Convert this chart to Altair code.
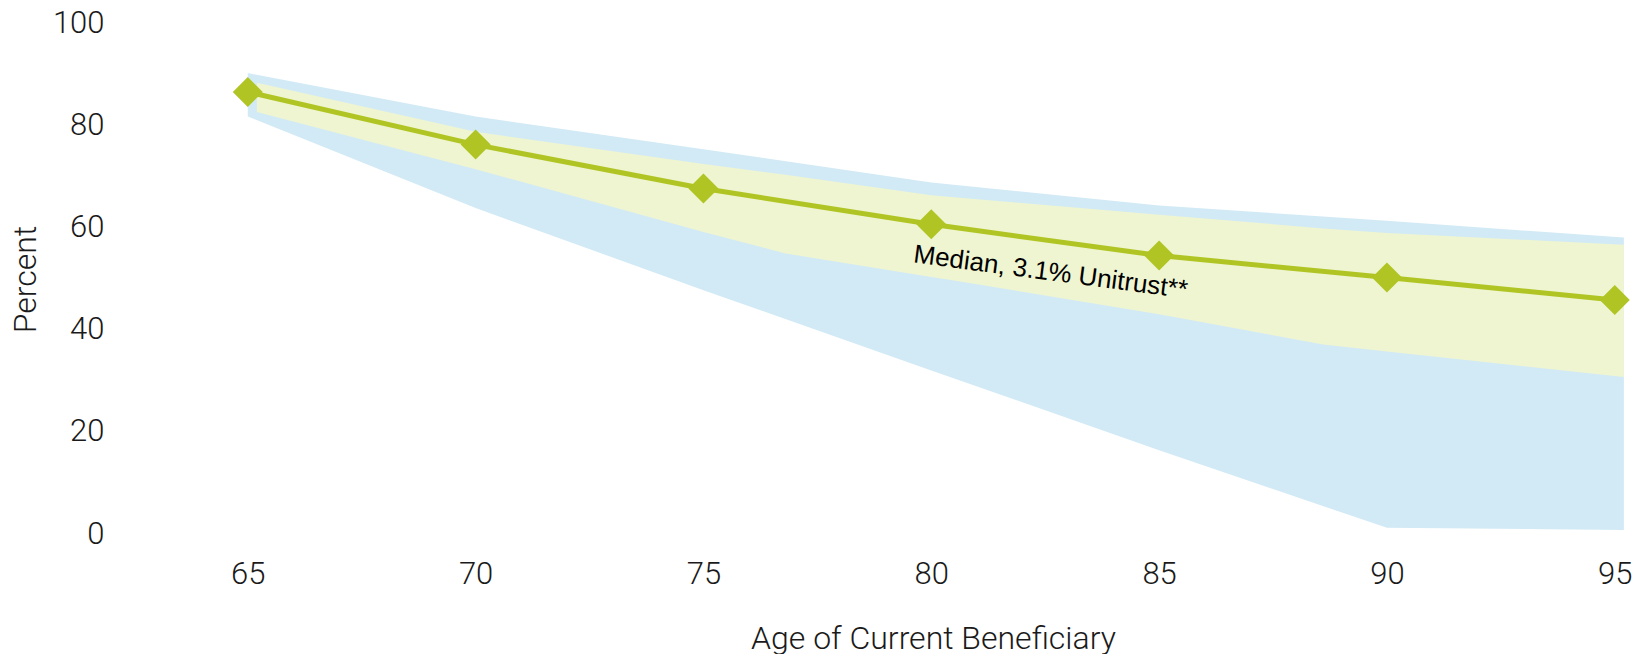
import altair as alt
import pandas as pd

# Median trust value path (percent of initial value) by beneficiary age
ages = [65, 70, 75, 80, 85, 90, 95]
median = [86.5, 76.2, 67.6, 60.6, 54.5, 50.2, 45.8]

# Outer (wide) range band
outer_age = [65, 70, 75, 80, 85, 90, 95.2]
outer_high = [90.2, 81.7, 75.3, 68.8, 64.3, 61.3, 58.0]
outer_low = [81.7, 63.8, 47.7, 32.0, 16.4, 1.2, 0.8]

# Inner (narrow) range band
inner_age = [65.2, 70, 75, 76.8, 80, 80.5, 85, 88.6, 90, 95.2]
inner_high = [88.3, 78.7, 72.4, 70.3, 66.3, 65.9, 62.5, 59.8, 58.9, 56.6]
inner_low = [82.6, 71.4, 59.1, 54.9, 50.3, 49.6, 43.0, 37.1, 35.7, 30.7]

x_ticks = [65, 70, 75, 80, 85, 90, 95]
y_ticks = [0, 20, 40, 60, 80, 100]

label_text = "Median, 3.1% Unitrust**"
label_pos = {"age": 82.62, "pct": 51.2}

OLIVE = "#b0c524"
BLUE = "#d2eaf5"
PALE = "#eff5d1"
TEXT = "#1a1a1a"
FONT = "Roboto"

med_df = pd.DataFrame({"age": ages, "pct": median})
outer_df = pd.DataFrame({"age": outer_age, "hi": outer_high, "lo": outer_low})
inner_df = pd.DataFrame({"age": inner_age, "hi": inner_high, "lo": inner_low})
label_df = pd.DataFrame({"age": [label_pos["age"]], "pct": [label_pos["pct"]], "t": [label_text]})

x_scale = alt.Scale(domain=[64.5, 95.4], nice=False, zero=False)
y_scale = alt.Scale(domain=[0, 100], nice=False)

x_axis = alt.Axis(
    values=x_ticks, format="d", title="Age of Current Beneficiary",
    labelFontSize=31, labelFont=FONT, labelFontWeight=300, labelColor=TEXT,
    labelPadding=40, labelBaseline="middle",
    ticks=False, domain=False, grid=False,
    titleFontSize=32, titleFont=FONT, titleFontWeight=300, titleColor=TEXT,
    titleX=708, titleY=114, titleAlign="center", titleBaseline="alphabetic",
)
y_axis = alt.Axis(
    values=y_ticks, title="Percent",
    labelFontSize=31, labelFont=FONT, labelFontWeight=300, labelColor=TEXT,
    labelPadding=121, ticks=False, domain=False, grid=False,
    titleFontSize=32, titleFont=FONT, titleFontWeight=300, titleColor=TEXT,
    titleAngle=270, titleX=-200, titleY=256, titleAlign="center", titleBaseline="middle",
)

outer = alt.Chart(outer_df).mark_area(color=BLUE, opacity=1).encode(
    x=alt.X("age:Q", scale=x_scale, axis=x_axis),
    y=alt.Y("hi:Q", scale=y_scale, axis=y_axis),
    y2="lo:Q",
)

inner = alt.Chart(inner_df).mark_area(color=PALE, opacity=1).encode(
    x=alt.X("age:Q", scale=x_scale),
    y=alt.Y("hi:Q", scale=y_scale),
    y2="lo:Q",
)

line = alt.Chart(med_df).mark_line(color=OLIVE, strokeWidth=5).encode(
    x=alt.X("age:Q", scale=x_scale),
    y=alt.Y("pct:Q", scale=y_scale),
)

points = alt.Chart(med_df).mark_point(
    shape="diamond", filled=True, size=900, color=OLIVE, opacity=1
).encode(
    x=alt.X("age:Q", scale=x_scale),
    y=alt.Y("pct:Q", scale=y_scale),
)

label = alt.Chart(label_df).mark_text(
    angle=7.5, fontSize=26, font="Liberation Sans", color="#000000",
    align="center", baseline="middle",
).encode(
    x=alt.X("age:Q", scale=x_scale),
    y=alt.Y("pct:Q", scale=y_scale),
    text="t:N",
)

chart = alt.layer(outer, inner, line, points, label).properties(
    width=1408, height=511,
    autosize=alt.AutoSizeParams(type="none"),
    padding={"left": 225, "top": 23, "right": 2, "bottom": 120},
    background="white",
).configure_view(stroke=None)

chart.save("out.html", embed_options={"renderer": "svg", "actions": False})
